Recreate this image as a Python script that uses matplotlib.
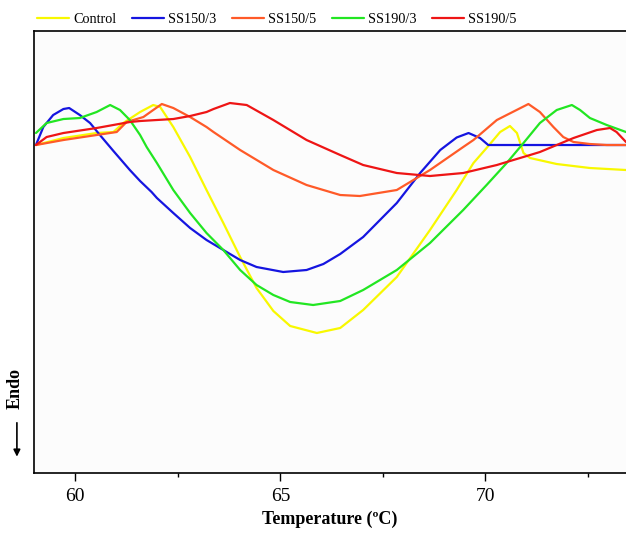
import numpy as np
import matplotlib
matplotlib.use('Agg')
import matplotlib.pyplot as plt

plt.rcParams['font.family'] = ['Liberation Serif', 'DejaVu Serif']

# heat flow in arbitrary units (baseline = 0)
t_control = [59.04, 59.71, 60.52, 60.93, 61.17, 61.58, 61.90, 62.07, 62.39, 62.80, 63.20,
             63.61, 64.02, 64.42, 64.83, 65.24, 65.89, 66.46, 67.02, 67.84, 68.65, 69.30, 69.71,
             70.03, 70.36, 70.60, 70.77, 70.93, 71.09, 71.74, 72.55, 73.43]
hf_control = [0.00, 0.07, 0.12, 0.13, 0.22, 0.33, 0.40, 0.38, 0.18, -0.12, -0.45,
              -0.78, -1.12, -1.43, -1.66, -1.81, -1.88, -1.83, -1.65, -1.32, -0.85, -0.45, -0.18,
              -0.03, 0.13, 0.19, 0.12, -0.08, -0.13, -0.19, -0.23, -0.25]

t_ss150_3 = [59.04, 59.22, 59.46, 59.71, 59.85, 60.11, 60.36, 60.60, 60.93, 61.33, 61.58, 61.86,
             61.99, 62.39, 62.80, 63.20, 63.61, 64.02, 64.42, 65.07, 65.64, 66.05, 66.46, 67.02,
             67.84, 68.41, 68.90, 69.30, 69.59, 69.87, 70.07, 73.43]
hf_ss150_3 = [0.00, 0.18, 0.30, 0.36, 0.37, 0.30, 0.22, 0.10, -0.06, -0.25, -0.36, -0.47,
              -0.53, -0.68, -0.83, -0.95, -1.05, -1.15, -1.22, -1.27, -1.25, -1.19, -1.09, -0.92,
              -0.58, -0.28, -0.05, 0.075, 0.12, 0.07, 0.00, 0.00]

t_ss150_5 = [59.04, 59.71, 60.52, 61.01, 61.25, 61.66, 61.90, 62.11, 62.39, 62.80, 63.20, 63.37,
             64.02, 64.83, 65.64, 66.46, 66.94, 67.84, 68.65, 69.46, 69.71, 70.28, 70.52, 71.05,
             71.33, 71.66, 71.90, 72.15, 72.55, 72.96, 73.43]
hf_ss150_5 = [0.00, 0.05, 0.10, 0.13, 0.23, 0.28, 0.35, 0.41, 0.37, 0.28, 0.18, 0.13,
              -0.05, -0.25, -0.40, -0.50, -0.51, -0.45, -0.25, -0.02, 0.05, 0.25, 0.30, 0.41,
              0.33, 0.18, 0.08, 0.03, 0.01, 0.00, 0.00]

t_ss190_3 = [59.04, 59.30, 59.71, 60.11, 60.52, 60.85, 61.09, 61.33, 61.58, 61.74, 61.99, 62.39,
             62.80, 63.20, 63.61, 64.02, 64.42, 64.83, 65.24, 65.80, 66.46, 67.02, 67.84, 68.65,
             69.46, 70.03, 70.52, 70.93, 71.33, 71.74, 72.11, 72.31, 72.55, 72.96, 73.43]
hf_ss190_3 = [0.12, 0.22, 0.26, 0.27, 0.33, 0.40, 0.35, 0.25, 0.10, -0.02, -0.18, -0.45,
              -0.68, -0.88, -1.05, -1.25, -1.40, -1.50, -1.57, -1.60, -1.56, -1.45, -1.25, -0.98,
              -0.65, -0.40, -0.18, 0.02, 0.22, 0.35, 0.40, 0.35, 0.27, 0.20, 0.13]

t_ss190_5 = [59.04, 59.30, 59.71, 60.52, 61.33, 61.58, 62.39, 62.80, 63.20, 63.37, 63.77, 64.18,
             64.83, 65.64, 66.46, 67.02, 67.84, 68.65, 69.46, 70.28, 70.52, 71.09, 71.33, 72.15,
             72.72, 73.04, 73.20, 73.43]
hf_ss190_5 = [0.00, 0.08, 0.12, 0.17, 0.23, 0.24, 0.26, 0.29, 0.33, 0.36, 0.42, 0.40,
              0.25, 0.05, -0.10, -0.20, -0.28, -0.31, -0.28, -0.20, -0.17, -0.10, -0.07, 0.07,
              0.15, 0.17, 0.13, 0.03]

fig = plt.figure(figsize=(6.26, 5.33), dpi=100)
ax = fig.add_axes([0.0548, 0.1126, 0.9452, 0.8292])
ax.set_facecolor('#fcfcfc')

line_kw = dict(lw=1.6, solid_joinstyle='round', solid_capstyle='round')
ax.plot(t_control, hf_control, color='#f8f800', label='Control', **line_kw)
ax.plot(t_ss150_3, hf_ss150_3, color='#1515e0', label='SS150/3', **line_kw)
ax.plot(t_ss150_5, hf_ss150_5, color='#ff5a28', label='SS150/5', **line_kw)
ax.plot(t_ss190_3, hf_ss190_3, color='#22e622', label='SS190/3', **line_kw)
ax.plot(t_ss190_5, hf_ss190_5, color='#ee1515', label='SS190/5', **line_kw)

ax.set_xlim(59.0, 73.43)
ax.set_ylim(-3.28, 1.14)
ax.set_xticks([60, 65, 70])
ax.set_xticks([62.5, 67.5, 72.5], minor=True)
ax.set_yticks([])
ax.tick_params(axis='x', which='major', direction='out', length=6, width=1, labelsize=14, pad=5)
ax.tick_params(axis='x', which='minor', direction='out', length=3, width=1)
ax.spines['right'].set_visible(False)
for s in ['left', 'top', 'bottom']:
    ax.spines[s].set_linewidth(1.2)
ax.set_xlabel('Temperature (ºC)', fontsize=13, fontweight='bold', labelpad=4)

fig.legend(loc='center', bbox_to_anchor=(0.442, 0.964), ncol=5, frameon=False, fontsize=10.3,
           handlelength=2.24, columnspacing=1.1, handletextpad=0.28)

fig.text(0.024, 0.272, 'Endo', rotation=90, fontsize=13, fontweight='bold', ha='center', va='center')
fig.add_artist(matplotlib.patches.FancyArrowPatch((0.027, 0.212), (0.027, 0.138),
                                                  transform=fig.transFigure, arrowstyle='-|>',
                                                  mutation_scale=10, lw=1.2, color='black'))

plt.savefig('out.png', dpi=100)
